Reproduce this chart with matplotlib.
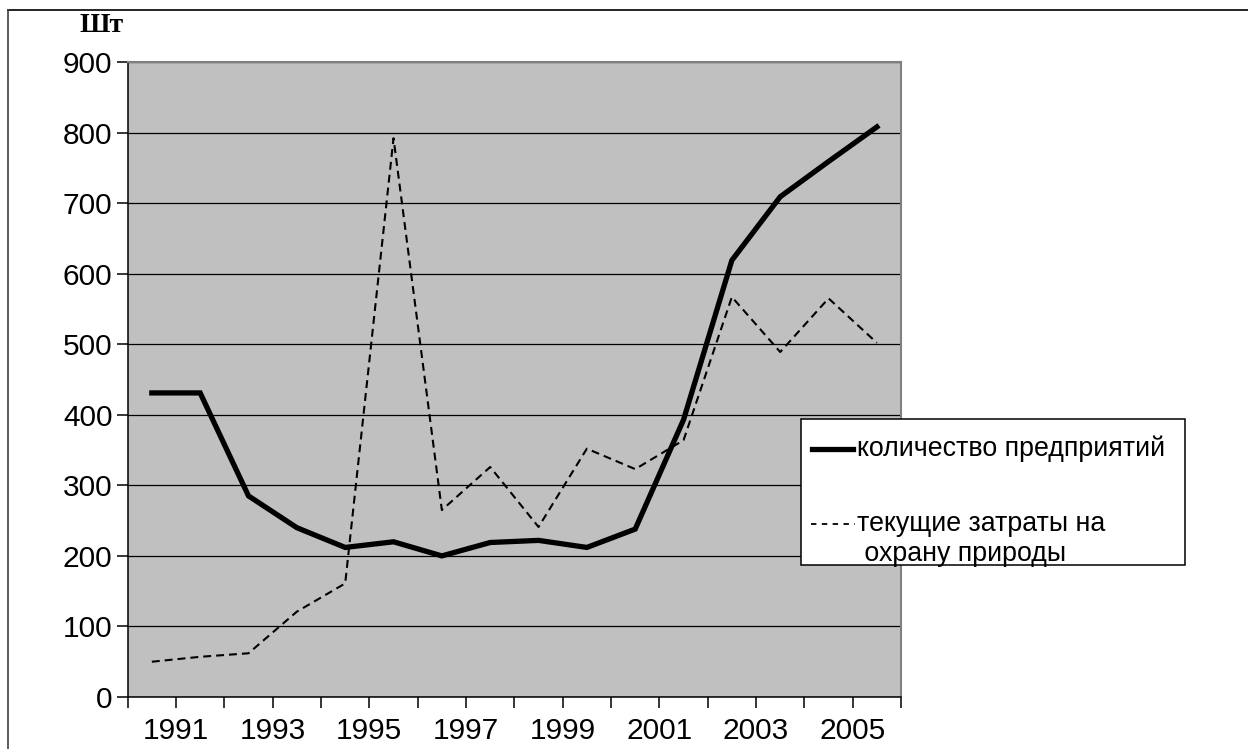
import numpy as np
import matplotlib
matplotlib.use("Agg")
import matplotlib.pyplot as plt
from matplotlib.lines import Line2D

plt.rcParams['font.family'] = ['Liberation Sans', 'DejaVu Sans']

# 16 yearly points, labels on every other tick
years = list(range(1990, 2006))
tick_labels = ['1991', '1993', '1995', '1997', '1999', '2001', '2003', '2005']

enterprises = [431, 431, 285, 240, 212, 220, 200, 219, 222, 212, 238, 393, 619, 709, 759, 808]
costs = [50, 57, 62, 121, 161, 792, 265, 326, 241, 352, 323, 364, 567, 489, 565, 502]

label_enterprises = 'количество предприятий'
label_costs = 'текущие затраты на\n охрану природы'

fig = plt.figure(figsize=(12.48, 7.49), dpi=100)
ax = fig.add_axes([0.1023, 0.0694, 0.6197, 0.8478])
ax.set_facecolor('#C0C0C0')

x = np.arange(len(years)) + 0.5
ax.plot(x, enterprises, color='black', lw=3.8, solid_joinstyle='miter', zorder=3)
ax.plot(x, costs, color='black', lw=1.5, ls=(0, (3.8, 2.4)), zorder=3)

ax.set_xlim(0, len(years))
ax.set_ylim(0, 900)
ax.set_yticks(range(0, 901, 100))
ax.set_xticks(range(0, len(years) + 1))
ax.set_xticklabels([''] * (len(years) + 1))
for i, lab in enumerate(tick_labels):
    ax.text(2 * i + 1, -28, lab, ha='center', va='top', fontsize=21.5,
            transform=ax.transData)

ax.grid(axis='y', color='black', lw=0.9)
ax.set_axisbelow(True)
ax.tick_params(axis='both', direction='out', length=8, width=1.1, color='black',
               labelsize=21.5)
ax.tick_params(axis='y', pad=3)
for s in ['top', 'right']:
    ax.spines[s].set_color('#808080')
    ax.spines[s].set_linewidth(1.5)
for s in ['left', 'bottom']:
    ax.spines[s].set_color('black')
    ax.spines[s].set_linewidth(1.1)

fig.text(102 / 1248, 1 - 25 / 749, 'Шт', family='Liberation Serif', weight='bold',
         fontsize=20, ha='center', va='center')

# legend box drawn by hand
lx0, lx1, ly0, ly1 = 801 / 1248, 1185 / 1248, 1 - 565 / 749, 1 - 419 / 749
fig.patches.append(plt.Rectangle((lx0, ly0), lx1 - lx0, ly1 - ly0, transform=fig.transFigure,
                                 facecolor='white', edgecolor='black', lw=1.1, zorder=5))
fig.lines.append(Line2D([812 / 1248, 853 / 1248], [1 - 449 / 749] * 2, transform=fig.transFigure,
                        color='black', lw=3.8, zorder=6))
fig.text(857 / 1248, 1 - 449 / 749, label_enterprises, fontsize=19.3, va='center', zorder=6)
fig.lines.append(Line2D([811 / 1248, 855 / 1248], [1 - 524 / 749] * 2, transform=fig.transFigure,
                        color='black', lw=1.3, ls=(0, (3, 3)), zorder=6))
fig.text(857 / 1248, 1 - 539 / 749, label_costs, fontsize=19.3, va='center', zorder=6,
         linespacing=1.2)

# outer frame (top and left)
fig.lines.append(Line2D([8 / 1248, 1], [1 - 10 / 749] * 2, transform=fig.transFigure,
                        color='black', lw=1.2))
fig.lines.append(Line2D([8 / 1248] * 2, [0, 1 - 10 / 749], transform=fig.transFigure,
                        color='#404040', lw=1.2))

fig.savefig('out.png', dpi=100)
